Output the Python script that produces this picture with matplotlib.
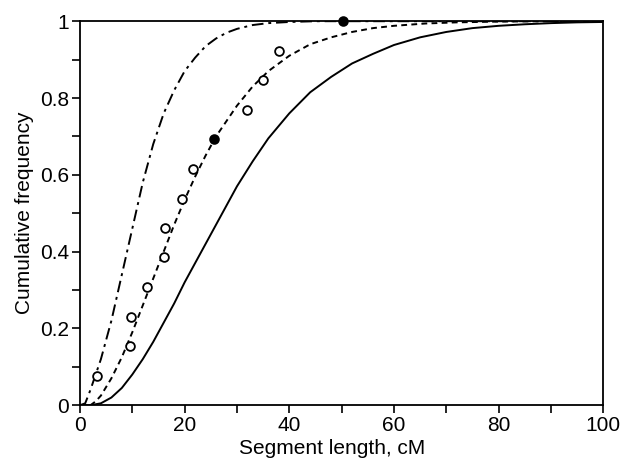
#!/usr/bin/env python3
"""Cumulative frequency of segment lengths (cM): observed points and three fitted curves."""
import matplotlib
matplotlib.use("Agg")
import matplotlib.pyplot as plt
from matplotlib.ticker import MultipleLocator

plt.rcParams['font.family'] = ['Liberation Sans', 'DejaVu Sans']

obs_x = [3.3, 9.6, 9.8, 12.9, 16.0, 16.3, 19.5, 21.6, 25.7, 31.9, 35.0, 38.1, 50.3]
obs_y = [0.077, 0.154, 0.231, 0.308, 0.385, 0.462, 0.538, 0.615, 0.692, 0.769, 0.846, 0.923, 1.0]
obs_filled = [False, False, False, False, False, False, False, False, True, False, False, False, True]

# solid curve
solid_x = [0, 2, 4, 6, 8, 10, 12, 14, 16, 18, 20, 22, 24, 26, 28, 30, 33, 36, 40,
           44, 48, 52, 56, 60, 65, 70, 75, 80, 85, 90, 95, 100]
solid_y = [0.0, 0.0, 0.005, 0.02, 0.045, 0.08, 0.12, 0.165, 0.215, 0.265, 0.32, 0.37,
           0.42, 0.47, 0.52, 0.57, 0.635, 0.695, 0.76, 0.815, 0.855, 0.89, 0.915,
           0.938, 0.958, 0.972, 0.982, 0.988, 0.992, 0.995, 0.997, 0.998]

# dotted curve
dotted_x = [0, 2, 3, 4, 6, 8, 10, 12, 14, 16, 18, 20, 22, 24, 26, 28, 30, 33, 36, 40,
            44, 48, 52, 56, 60, 66, 72, 80, 90, 100]
dotted_y = [0.0, 0.0, 0.01, 0.025, 0.07, 0.125, 0.19, 0.26, 0.33, 0.40, 0.47, 0.535,
            0.595, 0.65, 0.70, 0.74, 0.78, 0.83, 0.87, 0.91, 0.94, 0.958, 0.972, 0.982,
            0.988, 0.994, 0.997, 0.999, 1.0, 1.0]

# dash-dot curve
dashdot_x = [0, 1, 2, 3, 4, 5, 6, 7, 8, 9, 10, 11, 12, 13, 14, 16, 18, 20, 22, 24,
             26, 28, 30, 33, 36, 40, 45, 50, 60, 80, 100]
dashdot_y = [0.0, 0.005, 0.04, 0.08, 0.12, 0.17, 0.22, 0.28, 0.34, 0.40, 0.46, 0.52,
             0.58, 0.63, 0.68, 0.76, 0.82, 0.87, 0.905, 0.935, 0.955, 0.97, 0.98,
             0.99, 0.995, 0.998, 1.0, 1.0, 1.0, 1.0, 1.0]

fig = plt.figure(figsize=(6.2, 4.61), dpi=100)
ax = fig.add_axes([0.129, 0.121, 0.844, 0.833])

ax.plot(solid_x, solid_y, color='black', lw=1.4, ls='-')
ax.plot(dotted_x, dotted_y, color='black', lw=1.4, ls=(0, (3, 2.2)))
ax.plot(dashdot_x, dashdot_y, color='black', lw=1.4, ls=(0, (6, 2.5, 1.5, 2.5)))

for x, y, f in zip(obs_x, obs_y, obs_filled):
    ax.plot(x, y, marker='o', ms=6.3, mew=1.3, mec='black',
            mfc='black' if f else 'white', ls='none', zorder=4, clip_on=False)

ax.set_xlim(0, 100)
ax.set_ylim(0, 1)
ax.xaxis.set_major_locator(MultipleLocator(20))
ax.xaxis.set_minor_locator(MultipleLocator(10))
ax.yaxis.set_major_locator(MultipleLocator(0.2))
ax.yaxis.set_minor_locator(MultipleLocator(0.1))
ax.set_xticks([0, 20, 40, 60, 80, 100])
ax.set_xticklabels(['0', '20', '40', '60', '80', '100'])
ax.set_yticks([0, 0.2, 0.4, 0.6, 0.8, 1.0])
ax.set_yticklabels(['0', '0.2', '0.4', '0.6', '0.8', '1'])
ax.tick_params(which='major', direction='out', length=6, width=1.2, labelsize=15, pad=2)
ax.tick_params(which='minor', direction='out', length=6, width=1.2)
for s in ax.spines.values():
    s.set_linewidth(1.3)

ax.set_xlabel('Segment length, cM', fontsize=15)
ax.xaxis.set_label_coords(0.482, -0.088)
ax.set_ylabel('Cumulative frequency', fontsize=15, labelpad=4)

fig.savefig('out.png', dpi=100)
